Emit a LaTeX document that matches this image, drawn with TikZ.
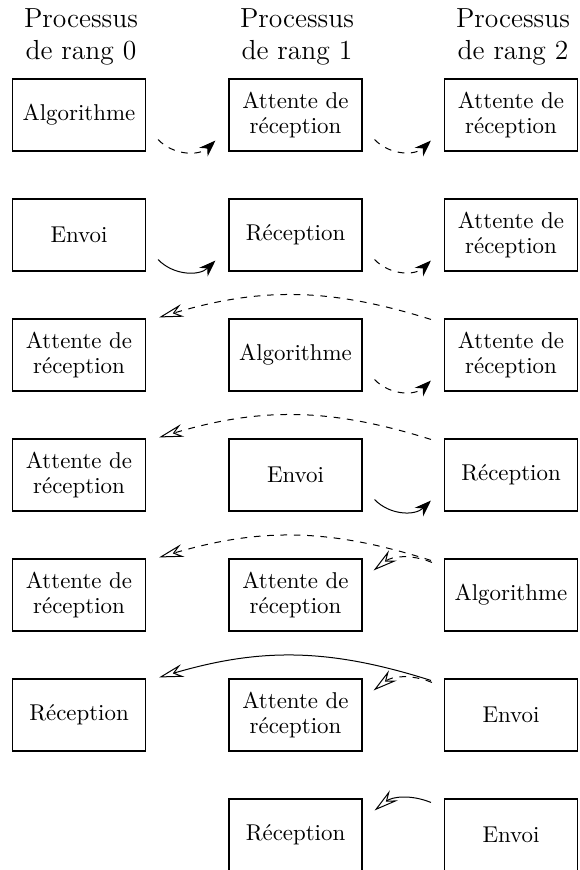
\documentclass[tikz,border=0pt]{standalone}
\usetikzlibrary{arrows.meta,calc}
\begin{document}
\begin{tikzpicture}[x=0.45pt,y=-0.45pt,
  box/.style={draw, line width=0.5pt, minimum width=59.85pt, minimum height=32.4pt, inner sep=0pt, align=center, font=\fontsize{10.3}{11}\selectfont},
  head/.style={align=center, font=\fontsize{12.4}{14.5}\selectfont},
  conn/.style={line width=0.45pt},
  sendtip/.style={-{Stealth[length=7.5pt,width=5.4pt,inset=2.4pt]}},
  recvtip/.style={-{Stealth[open,length=11pt,width=5.8pt,inset=3.8pt]}},
]
\useasboundingbox (0,0) rectangle (580,870);
% headers
\node[head] (h0) at (81,37) {Processus\\de rang 0};
\node[head] (h1) at (297,37) {Processus\\de rang 1};
\node[head] (h2) at (513,37) {Processus\\de rang 2};
% row 1
\node[box] (a1) at (79,115) {Algorithme};
\node[box] (b1) at (295.5,115) {Attente de\\réception};
\node[box] (c1) at (511,115) {Attente de\\réception};
% row 2
\node[box] (a2) at (79,235) {Envoi};
\node[box] (b2) at (295.5,235) {Réception};
\node[box] (c2) at (511,235) {Attente de\\réception};
% row 3
\node[box] (a3) at (79,355) {Attente de\\réception};
\node[box] (b3) at (295.5,355) {Algorithme};
\node[box] (c3) at (511,355) {Attente de\\réception};
% row 4
\node[box] (a4) at (79,475) {Attente de\\réception};
\node[box] (b4) at (295.5,475) {Envoi};
\node[box] (c4) at (511,475) {Réception};
% row 5
\node[box] (a5) at (79,595) {Attente de\\réception};
\node[box] (b5) at (295.5,595) {Attente de\\réception};
\node[box] (c5) at (511,595) {Algorithme};
% row 6
\node[box] (a6) at (79,715) {Réception};
\node[box] (b6) at (295.5,715) {Attente de\\réception};
\node[box] (c6) at (511,715) {Envoi};
% row 7
\node[box] (b7) at (295.5,835) {Réception};
\node[box] (c7) at (511,835) {Envoi};
% rightward messages
\draw[conn,dashed,sendtip] ($(a1.south east)+(12,-12)$) to[bend right=45] ($(b1.south west)+(-13,-11)$);
\draw[conn,dashed,sendtip] ($(b1.south east)+(12,-12)$) to[bend right=45] ($(c1.south west)+(-13,-11)$);
\draw[conn,sendtip] ($(a2.south east)+(12,-12)$) to[bend right=45] ($(b2.south west)+(-13,-11)$);
\draw[conn,dashed,sendtip] ($(b2.south east)+(12,-12)$) to[bend right=45] ($(c2.south west)+(-13,-11)$);
\draw[conn,dashed,sendtip] ($(b3.south east)+(12,-12)$) to[bend right=45] ($(c3.south west)+(-13,-11)$);
\draw[conn,sendtip] ($(b4.south east)+(12,-12)$) to[bend right=45] ($(c4.south west)+(-13,-11)$);
% long leftward messages
\draw[conn,dashed,recvtip] ($(c3.north west)+(-13,1)$) to[bend right=17] ($(a3.north east)+(13,-1)$);
\draw[conn,dashed,recvtip] ($(c4.north west)+(-13,1)$) to[bend right=17] ($(a4.north east)+(13,-1)$);
\draw[conn,dashed,recvtip] ($(c5.north west)+(-13,2)$) to[bend right=17] ($(a5.north east)+(13,-1)$);
\draw[conn,recvtip] ($(c6.north west)+(-13,2)$) to[bend right=17] ($(a6.north east)+(13,-1)$);
% short leftward messages
\draw[conn,dashed,recvtip] ($(c5.north west)+(-12,4)$) to[bend right=30] ($(b5.north east)+(11,12)$);
\draw[conn,dashed,recvtip] ($(c6.north west)+(-12,4)$) to[bend right=30] ($(b6.north east)+(11,12)$);
\draw[conn,recvtip] ($(c7.north west)+(-13,4)$) to[bend right=30] ($(b7.north east)+(12,12)$);
\end{tikzpicture}
\end{document}
